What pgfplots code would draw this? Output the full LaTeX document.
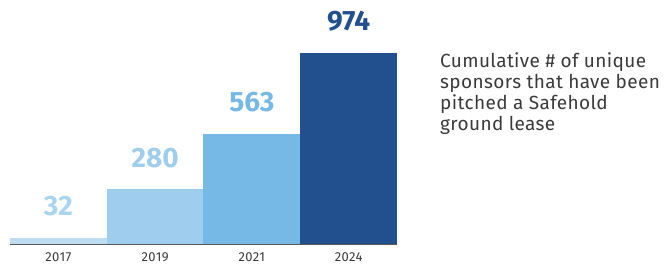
\documentclass[border=0pt]{standalone}
\usepackage{pgfplots}
\pgfplotsset{compat=1.18}
\usepackage{fontspec}
\setmainfont{Fira Sans}
\newfontfamily\sidefont[LetterSpace=2]{Fira Sans}
\newfontfamily\tickfont[LetterSpace=3]{Fira Sans}
\definecolor{cA}{HTML}{BEDDF1}
\definecolor{cAt}{HTML}{AAD4F0}
\definecolor{cB}{HTML}{9FCDED}
\definecolor{cC}{HTML}{76B8E6}
\definecolor{cD}{HTML}{22508F}
\definecolor{txt}{HTML}{3A3A3A}
\begin{document}
\begin{tikzpicture}
\useasboundingbox (-10bp,-22bp) rectangle (658bp,244bp);
\begin{axis}[
  at={(0,0)}, anchor=south west,
  scale only axis, width=387bp, height=244bp,
  xmin=-0.5, xmax=3.5, ymin=0, ymax=1244,
  axis y line=none, axis x line*=bottom,
  x axis line style={-, draw=black!65, line width=1.3bp},
  xtick={0,1,2,3}, xticklabels={2017,2019,2021,2024},
  major tick length=0pt,
  xticklabel style={font=\tickfont\fontsize{13bp}{14bp}\selectfont, text=txt, anchor=base, yshift=-17.5bp},
  ytick=\empty,
  /pgf/number format/assume math mode=true,
  nodes near coords,
  nodes near coords style={anchor=base, yshift=22bp, font=\fontsize{28bp}{32bp}\selectfont\bfseries},
  clip=false,
]
\addplot[ybar, bar width=1, fill=cA, draw=none, nodes near coords style={text=cAt}] coordinates {(0,32)};
\addplot[ybar, bar width=1, fill=cB, draw=none, nodes near coords style={text=cB}] coordinates {(1,280)};
\addplot[ybar, bar width=1, fill=cC, draw=none, nodes near coords style={text=cC}] coordinates {(2,563)};
\addplot[ybar, bar width=1, fill=cD, draw=none, nodes near coords style={text=cD}] coordinates {(3,974)};
\end{axis}
\begin{scope}[every node/.style={anchor=base west, inner sep=0pt, text=txt, font=\sidefont\fontsize{19bp}{21bp}\selectfont}]
\node at (430bp,176bp) {Cumulative \# of unique};
\node at (430bp,155bp) {sponsors that have been};
\node at (430bp,134bp) {pitched a Safehold};
\node at (430bp,113bp) {ground lease};
\end{scope}
\end{tikzpicture}
\end{document}
